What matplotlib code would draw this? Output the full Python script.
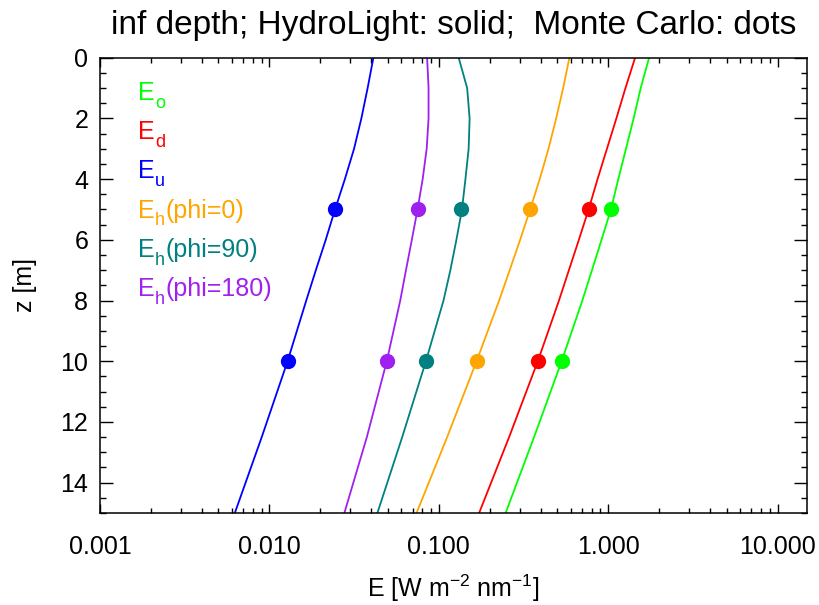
import numpy as np
import matplotlib
matplotlib.use("Agg")
import matplotlib.pyplot as plt
from matplotlib.ticker import LogLocator, FuncFormatter, MultipleLocator, NullFormatter

plt.rcParams['font.family'] = ['Liberation Sans', 'DejaVu Sans']
plt.rcParams['mathtext.fontset'] = 'custom'
plt.rcParams['mathtext.rm'] = 'Liberation Sans'
plt.rcParams['mathtext.it'] = 'Liberation Sans'

# HydroLight profiles (depth in m, irradiance in W m-2 nm-1)
z_hl = [0, 1, 2, 3, 4, 5, 6, 7, 8, 10, 12.5, 15]
Eo_hl = [1.743, 1.555, 1.413, 1.273, 1.147, 1.037, 0.913, 0.802, 0.7035, 0.531, 0.365, 0.248]
Ed_hl = [1.441, 1.264, 1.117, 0.983, 0.865, 0.766, 0.671, 0.586, 0.512, 0.384, 0.260, 0.173]
Eu_hl = [0.0411, 0.0380, 0.0349, 0.0316, 0.0279, 0.0244, 0.0215, 0.0188, 0.0165, 0.0128, 0.00901, 0.00625]
Eh0_hl = [0.590, 0.542, 0.493, 0.444, 0.394, 0.346, 0.302, 0.262, 0.227, 0.167, 0.112, 0.0739]
Eh90_hl = [0.131, 0.147, 0.152, 0.150, 0.1436, 0.137, 0.127, 0.117, 0.1066, 0.0839, 0.0608, 0.0434]
Eh180_hl = [0.0853, 0.0870, 0.0870, 0.0848, 0.0803, 0.0749, 0.0693, 0.0640, 0.0592, 0.0493, 0.0376, 0.0277]

# Monte Carlo values
z_mc = [5, 10]
Eo_mc = [1.04, 0.531]
Ed_mc = [0.773, 0.384]
Eu_mc = [0.0244, 0.0128]
Eh0_mc = [0.347, 0.1675]
Eh90_mc = [0.1345, 0.0840]
Eh180_mc = [0.0751, 0.0492]

# legend pieces: base, subscript, rest
names = [('E', 'o', ''), ('E', 'd', ''), ('E', 'u', ''),
         ('E', 'h', '(phi=0)'), ('E', 'h', '(phi=90)'), ('E', 'h', '(phi=180)')]
colors = ['#00ff00', '#ff0000', '#0000ff', '#ffa500', '#008080', '#a020f0']
hl = [Eo_hl, Ed_hl, Eu_hl, Eh0_hl, Eh90_hl, Eh180_hl]
mc = [Eo_mc, Ed_mc, Eu_mc, Eh0_mc, Eh90_mc, Eh180_mc]

fig = plt.figure(figsize=(8.19, 6.05), dpi=100)
ax = fig.add_axes([0.1221, 0.1521, 0.8638, 0.7525])

for e, c in zip(hl, colors):
    ax.plot(e, z_hl, color=c, lw=1.3)
for e, c in zip(mc, colors):
    ax.plot(e, z_mc, 'o', color=c, ms=11, mec='none')

ax.set_xscale('log')
ax.set_xlim(0.001, 15)
ax.set_ylim(15, 0)
ax.xaxis.set_major_locator(LogLocator(base=10, numticks=10))
ax.xaxis.set_minor_locator(LogLocator(base=10, subs=np.arange(2, 10), numticks=20))
ax.xaxis.set_major_formatter(FuncFormatter(lambda v, p: '%.3f' % v))
ax.xaxis.set_minor_formatter(NullFormatter())
ax.yaxis.set_major_locator(MultipleLocator(2))
ax.yaxis.set_minor_locator(MultipleLocator(0.5))

ax.tick_params(axis='both', which='both', direction='in', top=True, right=True,
               width=1, labelsize=18)
ax.tick_params(axis='x', which='major', length=6.7, pad=16)
ax.tick_params(axis='x', which='minor', length=3.8)
ax.tick_params(axis='y', which='major', length=9.6, pad=8.5)
ax.tick_params(axis='y', which='minor', length=4.3)
for s in ax.spines.values():
    s.set_linewidth(1.1)

ax.set_title('inf depth; HydroLight: solid;  Monte Carlo: dots', fontsize=24, pad=17)
fig.text(453.7 / 819, 1 - 597 / 605, r'E [W m$^{-2}$ nm$^{-1}$]', ha='center',
         va='baseline', fontsize=18)
fig.text(25 / 819, 1 - 285 / 605, 'z [m]', rotation=90, ha='center', va='center',
         fontsize=18)

for i, ((base, sub, rest), c) in enumerate(zip(names, colors)):
    t1 = ax.text(0.0537, 0.907 - i * 0.0861, base, color=c, fontsize=18,
                 transform=ax.transAxes, va='baseline', ha='left')
    t2 = ax.annotate(sub, xy=(1, 0), xycoords=t1, xytext=(0.3, -2.0),
                     textcoords='offset points', va='baseline', ha='left',
                     fontsize=13, color=c)
    if rest:
        ax.annotate(rest, xy=(1, 0), xycoords=t2, xytext=(0.3, 8.5),
                    textcoords='offset points', va='baseline', ha='left',
                    fontsize=18, color=c)

fig.savefig('out.png', dpi=100)
